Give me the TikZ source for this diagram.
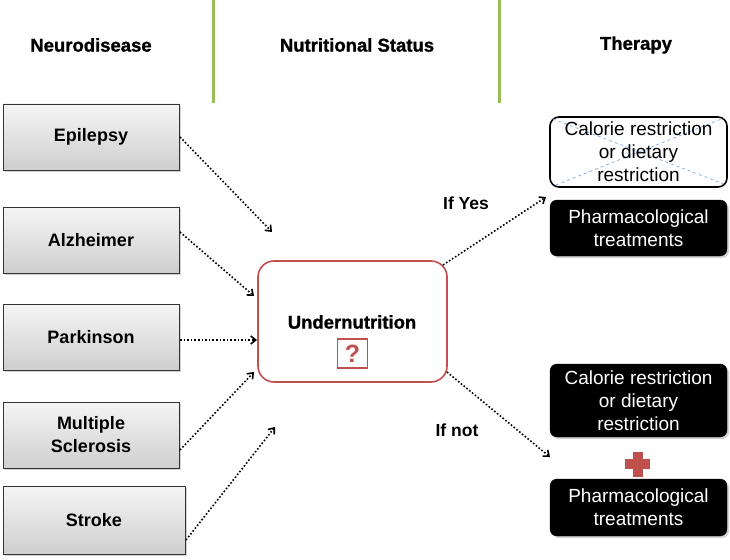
\documentclass[tikz,border=0pt]{standalone}
\usepackage{fontspec}
\setmainfont{Liberation Sans}
\newfontfamily\heavybold[FakeBold=1.2]{Liberation Sans Bold}
\usetikzlibrary{arrows.meta,shadows}
\definecolor{redline}{HTML}{C0504D}
\definecolor{greenline}{HTML}{9BBB59}
\definecolor{xblue}{HTML}{8EB4E3}
\begin{document}
\begin{tikzpicture}[x=1pt,y=-1pt,
  header/.style={font=\heavybold\fontsize{18.5}{20}\selectfont, inner sep=0pt},
  diseasebox/.style={draw=black!80, line width=0.8pt, top color=gray!8, bottom color=gray!38,
     minimum width=176pt, minimum height=66pt, inner sep=2pt, align=center,
     font=\bfseries\fontsize{18}{21}\selectfont,
     drop shadow={opacity=0.35, shadow xshift=2pt, shadow yshift=-2pt}},
  blackbox/.style={draw=black, fill=black, rounded corners=7pt, text=white,
     minimum width=177pt, inner sep=2pt, align=center,
     font=\fontsize{19}{23}\selectfont,
     drop shadow={opacity=0.35, shadow xshift=2pt, shadow yshift=-2pt}},
  whitebox/.style={draw=black, line width=1.6pt, fill=white, rounded corners=9pt,
     minimum width=177pt, inner sep=2pt, align=center},
  flow/.style={dotted, line width=1.6pt, -{Straight Barb[length=5pt,width=8pt]}},
  lbl/.style={font=\bfseries\fontsize{17.5}{20}\selectfont, inner sep=0pt}]
\useasboundingbox (0,0) rectangle (730,559);
% column headers
\node[header] (h1) at (91,45) {Neurodisease};
\node[header] (h2) at (357,45) {Nutritional Status};
\node[header] (h3) at (636,45) {Therapy};
\draw[greenline, line width=3pt] (213,0) -- (213,103);
\draw[greenline, line width=3pt] (499,0) -- (499,103);
% disease boxes
\node[diseasebox] (epi) at (91,137) {Epilepsy};
\node[diseasebox] (alz) at (91,240) {Alzheimer};
\node[diseasebox] (par) at (91,337) {Parkinson};
\node[diseasebox, font=\bfseries\fontsize{18}{23}\selectfont] (ms) at (91,435) {Multiple\\Sclerosis};
\node[diseasebox, minimum width=182pt, minimum height=68pt] (str) at (94,520) {Stroke};
% undernutrition
\node[draw=redline, line width=1.6pt, rounded corners=16pt, fill=white,
      minimum width=189pt, minimum height=121pt] (und) at (352.5,321.5) {};
\node[font=\heavybold\fontsize{18.5}{20}\selectfont, inner sep=0pt] (undt) at (352,322) {Undernutrition};
\node[draw=redline, line width=1.4pt, minimum width=30pt, minimum height=29pt, inner sep=0pt,
      text=redline, font=\bfseries\fontsize{25}{26}\selectfont] (q) at (352.5,353.5) {?};
% arrow coordinates
\coordinate (e1) at (272,232);
\coordinate (e2) at (254,296);
\coordinate (e3) at (257,340);
\coordinate (e4) at (254,372);
\coordinate (e5) at (275,427);
\coordinate (s1) at (180,137);
\coordinate (s2) at (180,232);
\coordinate (s3) at (180,340);
\coordinate (s4) at (180,450);
\coordinate (s5) at (186,540);
\draw[flow] (s1) -- (e1);
\draw[flow] (s2) -- (e2);
\draw[flow] (s3) -- (e3);
\draw[flow] (s4) -- (e4);
\draw[flow] (s5) -- (e5);
% therapy boxes
\node[whitebox, minimum height=70pt] (cal1) at (638.5,152) {};
\draw[xblue, dashed, line width=0.8pt] (553,119) -- (724,184);
\draw[xblue, dashed, line width=0.8pt] (556,185) -- (724,118);
\node[font=\fontsize{19}{23}\selectfont, align=center, inner sep=0pt] (cal1t) at (638.5,152)
  {Calorie restriction\\or dietary\\restriction};
\node[blackbox, minimum height=56pt] (ph1) at (638.5,228) {Pharmacological\\treatments};
\node[blackbox, minimum height=73pt] (cal2) at (638.5,400.5) {Calorie restriction\\or dietary\\restriction};
\node[blackbox, minimum height=57pt] (ph2) at (638.5,507.5) {Pharmacological\\treatments};
% red plus
\fill[redline] (625,459) rectangle (650,469);
\fill[redline] (632.5,452) rectangle (642.5,477);
% outgoing arrows
\coordinate (y0) at (443,265);
\coordinate (y1) at (546,197);
\coordinate (n0) at (447,372);
\coordinate (n1) at (550,457);
\draw[flow] (y0) -- (y1);
\draw[flow] (n0) -- (n1);
\node[lbl] (ify) at (466,203) {If Yes};
\node[lbl] (ifn) at (457,430) {If not};
\end{tikzpicture}
\end{document}
